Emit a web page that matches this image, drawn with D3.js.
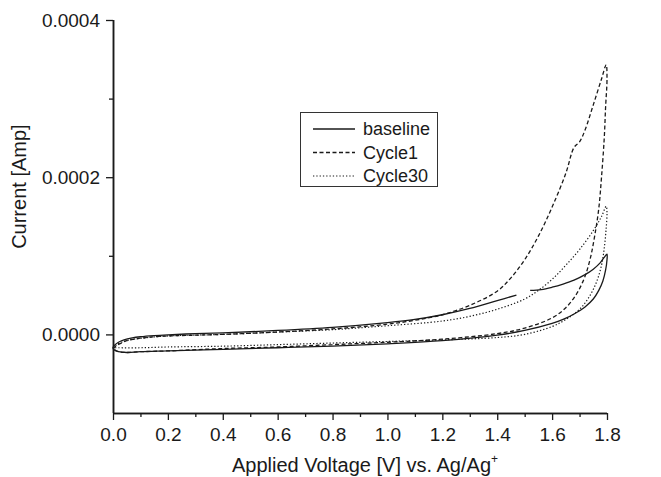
<!DOCTYPE html>
<html>
  <head>
    <meta charset="utf-8">
    <script src="https://d3js.org/d3.v7.min.js" charset="utf-8"></script>
    <style>
      body { margin: 0; background: #fff; }
      svg { font-family: "Liberation Sans", Arial, sans-serif; }
    </style>
  </head>
  <body>
    <svg id="chart" width="661" height="477"></svg>
    <script type="text/javascript">
      // values, current in A
      var baselineV = [1.52, 1.56, 1.60, 1.64, 1.68, 1.72, 1.75, 1.775, 1.79, 1.80,
        1.80, 1.795, 1.785, 1.77, 1.75, 1.72, 1.68, 1.64, 1.60, 1.50, 1.40, 1.20, 1.00, 0.80, 0.60, 0.40, 0.20, 0.10, 0.05, 0.02, 0.005, 0.0,
        0.005, 0.02, 0.04, 0.07, 0.10, 0.15, 0.20, 0.30, 0.40, 0.60, 0.80, 1.00, 1.10, 1.20, 1.30, 1.40, 1.47];
      var baselineI = [0.56e-4, 0.57e-4, 0.60e-4, 0.64e-4, 0.69e-4, 0.76e-4, 0.83e-4, 0.91e-4, 0.98e-4, 1.02e-4,
        0.95e-4, 0.82e-4, 0.68e-4, 0.56e-4, 0.45e-4, 0.35e-4, 0.26e-4, 0.19e-4, 0.14e-4, 0.05e-4, -0.01e-4, -0.08e-4, -0.12e-4, -0.15e-4, -0.17e-4, -0.19e-4, -0.21e-4, -0.22e-4, -0.23e-4, -0.22e-4, -0.20e-4, -0.17e-4,
        -0.14e-4, -0.10e-4, -0.07e-4, -0.045e-4, -0.03e-4, -0.015e-4, -0.005e-4, 0.01e-4, 0.02e-4, 0.05e-4, 0.09e-4, 0.15e-4, 0.19e-4, 0.25e-4, 0.33e-4, 0.43e-4, 0.50e-4];

      var cycle1V = [0.0, 0.01, 0.03, 0.05, 0.08, 0.12, 0.20, 0.30, 0.40, 0.60, 0.80, 1.00, 1.10, 1.20, 1.30, 1.40, 1.45, 1.50, 1.55, 1.60, 1.65, 1.68, 1.70, 1.72, 1.75, 1.78, 1.797,
        1.80, 1.795, 1.79, 1.78, 1.77, 1.755, 1.74, 1.72, 1.69, 1.65, 1.60, 1.50, 1.40, 1.20, 1.00, 0.80, 0.60, 0.40, 0.20, 0.10, 0.05, 0.02, 0.0];
      var cycle1I = [-0.18e-4, -0.15e-4, -0.11e-4, -0.08e-4, -0.06e-4, -0.04e-4, -0.02e-4, -0.01e-4, 0.0, 0.03e-4, 0.07e-4, 0.13e-4, 0.18e-4, 0.25e-4, 0.37e-4, 0.55e-4, 0.72e-4, 0.95e-4, 1.25e-4, 1.62e-4, 2.05e-4, 2.38e-4, 2.45e-4, 2.60e-4, 2.92e-4, 3.25e-4, 3.43e-4,
        3.25e-4, 2.90e-4, 2.50e-4, 2.00e-4, 1.60e-4, 1.25e-4, 0.98e-4, 0.74e-4, 0.52e-4, 0.34e-4, 0.21e-4, 0.08e-4, 0.01e-4, -0.06e-4, -0.10e-4, -0.13e-4, -0.16e-4, -0.18e-4, -0.21e-4, -0.22e-4, -0.23e-4, -0.22e-4, -0.18e-4];

      var cycle30V = [0.0, 0.01, 0.03, 0.06, 0.10, 0.20, 0.40, 0.60, 0.80, 1.00, 1.20, 1.30, 1.40, 1.50, 1.55, 1.60, 1.65, 1.70, 1.75, 1.78, 1.797,
        1.80, 1.797, 1.79, 1.78, 1.76, 1.73, 1.70, 1.65, 1.60, 1.50, 1.40, 1.20, 1.00, 0.80, 0.60, 0.40, 0.20, 0.10, 0.02, 0.0];
      var cycle30I = [-0.17e-4, -0.14e-4, -0.10e-4, -0.07e-4, -0.05e-4, -0.02e-4, 0.0, 0.03e-4, 0.06e-4, 0.11e-4, 0.17e-4, 0.23e-4, 0.32e-4, 0.45e-4, 0.56e-4, 0.70e-4, 0.88e-4, 1.08e-4, 1.32e-4, 1.50e-4, 1.63e-4,
        1.55e-4, 1.35e-4, 1.10e-4, 0.88e-4, 0.65e-4, 0.45e-4, 0.32e-4, 0.19e-4, 0.10e-4, 0.0, -0.04e-4, -0.07e-4, -0.09e-4, -0.11e-4, -0.13e-4, -0.15e-4, -0.16e-4, -0.17e-4, -0.17e-4, -0.17e-4];

      var seriesNames = ["baseline", "Cycle1", "Cycle30"];
      var xMajor = [0, 0.2, 0.4, 0.6, 0.8, 1.0, 1.2, 1.4, 1.6, 1.8];
      var xMinor = [0.1, 0.3, 0.5, 0.7, 0.9, 1.1, 1.3, 1.5, 1.7];
      var yMajor = [0, 0.0002, 0.0004];
      var yMinor = [0.0001, 0.0003];

      var margin = {top: 20, right: 54, bottom: 64, left: 113};
      var width = 661 - margin.left - margin.right;
      var height = 477 - margin.top - margin.bottom;
      var ink = "#1a1a1a";

      var x = d3.scaleLinear().domain([0, 1.8]).range([0, width]);
      var y = d3.scaleLinear().domain([-0.0001, 0.0004]).range([height, 0]);

      var svg = d3.select("#chart");
      var chart = svg.append("g")
        .attr("transform", "translate(" + margin.left + "," + margin.top + ")");

      // curves
      var line = d3.line()
        .x(function(d) { return x(d[0]); })
        .y(function(d) { return y(d[1]); })
        .curve(d3.curveCatmullRom.alpha(0.5));

      var series = [
        {name: seriesNames[0], v: baselineV, i: baselineI, dash: null, w: 1.3},
        {name: seriesNames[1], v: cycle1V, i: cycle1I, dash: "4,2.5", w: 1.3},
        {name: seriesNames[2], v: cycle30V, i: cycle30I, dash: "1.3,2", w: 1.2}
      ];

      series.forEach(function(s) {
        chart.append("path")
          .datum(d3.zip(s.v, s.i))
          .attr("fill", "none")
          .attr("stroke", ink)
          .attr("stroke-width", s.w)
          .attr("stroke-dasharray", s.dash)
          .attr("d", line);
      });

      // axes
      var xAxis = d3.axisBottom(x).tickValues(xMajor).tickSize(7).tickPadding(8)
        .tickFormat(d3.format(".1f"));
      var xAxisMinor = d3.axisBottom(x).tickValues(xMinor).tickSize(4).tickFormat("");
      var yAxis = d3.axisLeft(y).tickValues(yMajor).tickSize(7).tickPadding(6)
        .tickFormat(d3.format(".4f"));
      var yAxisMinor = d3.axisLeft(y).tickValues(yMinor).tickSize(4).tickFormat("");

      chart.append("g").attr("class", "xa").attr("transform", "translate(0," + height + ")").call(xAxis);
      chart.append("g").attr("class", "xa").attr("transform", "translate(0," + height + ")").call(xAxisMinor);
      chart.append("g").attr("class", "ya").call(yAxis);
      chart.append("g").attr("class", "ya").call(yAxisMinor);

      chart.selectAll(".domain").attr("stroke", ink).attr("stroke-width", 1.5);
      chart.selectAll(".xa .domain").attr("d", "M0,0.5H" + width);
      chart.selectAll(".ya .domain").attr("d", "M0.5," + height + "V0");
      chart.selectAll(".tick line").attr("stroke", ink).attr("stroke-width", 1.3);
      chart.selectAll(".tick text").attr("fill", ink).style("font-size", "19px");

      // titles
      chart.append("text")
        .attr("transform", "translate(-87," + (height * 0.424) + ") rotate(-90)")
        .attr("text-anchor", "middle")
        .attr("fill", ink)
        .style("font-size", "20px")
        .text("Current [Amp]");

      var xt = chart.append("text")
        .attr("x", width / 2 + 5)
        .attr("y", height + 59)
        .attr("text-anchor", "middle")
        .attr("fill", ink)
        .style("font-size", "20px")
        .text("Applied Voltage [V] vs. Ag/Ag");
      xt.append("tspan").attr("dy", -9).style("font-size", "12px").text("+");

      // legend
      var legend = svg.append("g").attr("transform", "translate(300,112)");
      legend.append("rect")
        .attr("x", 0.5).attr("y", 0.5)
        .attr("width", 137).attr("height", 74)
        .attr("fill", "#fff")
        .attr("stroke", "#333")
        .attr("stroke-width", 1);
      series.forEach(function(s, k) {
        var yy = 17 + k * 23.5;
        legend.append("line")
          .attr("x1", 13).attr("x2", 55)
          .attr("y1", yy).attr("y2", yy)
          .attr("stroke", ink)
          .attr("stroke-width", s.w)
          .attr("stroke-dasharray", s.dash);
        legend.append("text")
          .attr("x", 63).attr("y", yy + 6)
          .attr("fill", ink)
          .style("font-size", "18px")
          .text(s.name);
      });
    </script>
  </body>
</html>
